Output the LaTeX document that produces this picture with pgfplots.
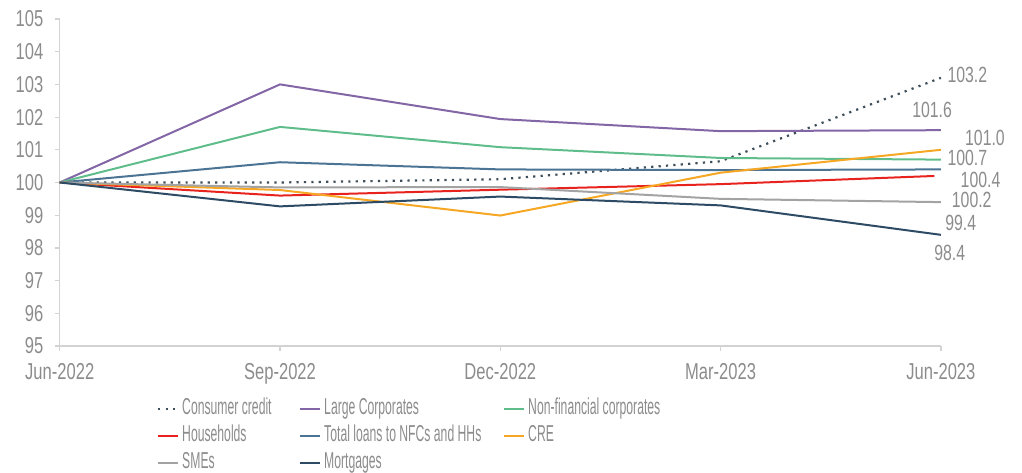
\documentclass[border=0pt]{standalone}
\usepackage{fontspec}
\setmainfont{Liberation Sans}[FakeStretch=0.53]
\newfontfamily\numfont{Liberation Sans}[FakeStretch=0.72]
\usepackage{pgfplots}
\pgfplotsset{compat=1.18}
\definecolor{txtgrey}{HTML}{8C8C8C}
\definecolor{axgrey}{HTML}{D3D3D3}
\definecolor{ccred}{HTML}{3E4F5C}
\definecolor{lcpurple}{HTML}{8366A6}
\definecolor{nfcgreen}{HTML}{5FBD8B}
\definecolor{hhred}{HTML}{E8231E}
\definecolor{totblue}{HTML}{4B7394}
\definecolor{creorange}{HTML}{F6A723}
\definecolor{smegrey}{HTML}{A3A3A3}
\definecolor{mortblue}{HTML}{2D4B64}

\begin{document}
\begin{tikzpicture}
\useasboundingbox (-29.85pt,-63pt) rectangle (481.15pt,173pt);
\begin{axis}[
  scale only axis, width=440.6pt, height=163.5pt,
  at={(0,0)}, anchor=south west,
  xmin=0, xmax=4, ymin=95, ymax=105,
  xtick={0,1,2,3,4},
  xticklabels={Jun-2022,Sep-2022,Dec-2022,Mar-2023,Jun-2023},
  ytick={95,96,...,105},
  axis x line*=bottom, axis y line*=left,
  axis line style={axgrey, line width=0.6pt, -},
  tick align=outside, major tick length=2.5pt,
  tick style={axgrey, line width=0.6pt},
  tick label style={font=\numfont\fontsize{11.5}{12}\selectfont, text=txtgrey},
  yticklabel style={xshift=-2.2pt},
  xticklabel style={yshift=-2.5pt},
  /pgf/number format/assume math mode=true,
  clip=false,
  legend columns=3,
  legend image code/.code={\draw[#1] (0pt,0pt) -- (10pt,0pt);},
  legend style={draw=none, fill=none, at={(0.110,-0.15)}, anchor=north west,
    inner sep=0pt, row sep=0pt,
    font=\fontsize{11.5}{12}\selectfont, text=txtgrey,
    nodes={text height=8pt, text depth=2.5pt, inner sep=1.5pt}},
  legend cell align=left,
]
\addplot[ccred, line width=1.1pt, dash pattern=on 1.1pt off 2.6pt] coordinates {(0,100) (1,100.0) (2,100.1) (3,100.65) (4,103.2)};
\addlegendentry{\makebox[57pt][l]{Consumer credit}}
\addplot[lcpurple, line width=1pt] coordinates {(0,100) (1,103.0) (2,101.94) (3,101.57) (4,101.6)};
\addlegendentry{\makebox[88pt][l]{Large Corporates}}
\addplot[nfcgreen, line width=1pt] coordinates {(0,100) (1,101.7) (2,101.08) (3,100.75) (4,100.7)};
\addlegendentry{Non-financial corporates}
\addplot[hhred, line width=1pt] coordinates {(0,100) (1,99.6) (2,99.78) (3,99.95) (3.97,100.2)};
\addlegendentry{\makebox[57pt][l]{Households}}
\addplot[totblue, line width=1pt] coordinates {(0,100) (1,100.62) (2,100.4) (3,100.38) (4,100.4)};
\addlegendentry{\makebox[88pt][l]{Total loans to NFCs and HHs}}
\addplot[creorange, line width=1pt] coordinates {(0,100) (1,99.77) (2,98.99) (3,100.3) (4,101.0)};
\addlegendentry{CRE}
\addplot[smegrey, line width=1pt] coordinates {(0,100) (1,99.85) (2,99.86) (3,99.5) (4,99.4)};
\addlegendentry{\makebox[57pt][l]{SMEs}}
\addplot[mortblue, line width=1pt] coordinates {(0,100) (1,99.27) (2,99.57) (3,99.3) (4,98.4)};
\addlegendentry{\makebox[88pt][l]{Mortgages}}

% end-of-line value labels
\begin{scope}[every node/.style={font=\numfont\fontsize{11}{12}\selectfont, text=txtgrey, inner sep=1pt}]
\node at (axis cs:4.12,103.29) {103.2};
\node at (axis cs:3.96,102.22) {101.6};
\node at (axis cs:4.20,101.36) {101.0};
\node at (axis cs:4.12,100.74) {100.7};
\node at (axis cs:4.18,100.08) {100.4};
\node at (axis cs:4.14,99.47) {100.2};
\node at (axis cs:4.09,98.77) {99.4};
\node at (axis cs:4.04,97.85) {98.4};
\end{scope}
\end{axis}
\end{tikzpicture}
\end{document}
